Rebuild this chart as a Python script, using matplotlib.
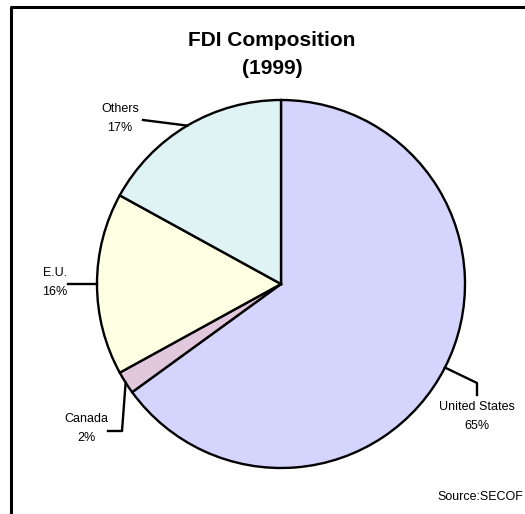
import numpy as np
import matplotlib
matplotlib.use("Agg")
import matplotlib.pyplot as plt
from matplotlib.patches import Wedge

# Data
categories = ["United States", "Canada", "E.U.", "Others"]
shares = [65, 2, 16, 17]
pct_labels = ["65%", "2%", "16%", "17%"]
colors = ["#D4D4FC", "#E2C8DC", "#FFFFE3", "#DFF3F4"]

W, H = 525, 514
fig = plt.figure(figsize=(W / 100, H / 100), dpi=100)
ax = fig.add_axes([0, 0, 1, 1])
ax.set_xlim(0, W)
ax.set_ylim(H, 0)
ax.axis("off")
plt.rcParams["font.family"] = ["Liberation Sans", "DejaVu Sans"]

# frame (left and top visible)
ax.plot([11, 11, W + 5], [H + 5, 7, 7], color="black", lw=2.2, solid_capstyle="butt")

cx, cy, r = 281, 284, 184
total = sum(shares)
start = 90.0
mids = []
for val, col in zip(shares, colors):
    sweep = 360.0 * val / total
    end = start - sweep
    w = Wedge((cx, cy), r, -start, -end, facecolor=col, edgecolor="black", lw=1.7)
    ax.add_patch(w)
    mids.append((start + end) / 2.0)
    start = end

def edge_pt(ang):
    a = np.deg2rad(ang)
    return cx + r * np.cos(a), cy - r * np.sin(a)

# leader elbows and label positions (layout)
layout = {
    "United States": dict(path=[(477, 383), (477, 395)], text=(477, 407)),
    "Canada": dict(path=[(122, 431), (108, 431)], text=(86, 419)),
    "E.U.": dict(path=[(68, 284)], text=(55, 273)),
    "Others": dict(path=[(143, 120)], text=(120, 109)),
}

for cat, pct, m in zip(categories, pct_labels, mids):
    x0, y0 = edge_pt(m)
    L = layout[cat]
    xs = [x0] + [p[0] for p in L["path"]]
    ys = [y0] + [p[1] for p in L["path"]]
    ax.plot(xs, ys, color="black", lw=1.7)
    tx, ty = L["text"]
    ax.text(tx, ty, cat, ha="center", va="center", fontsize=9)
    ax.text(tx, ty + 19, pct, ha="center", va="center", fontsize=9)

ax.text(272, 40, "FDI Composition", ha="center", va="center", fontsize=15, fontweight="bold")
ax.text(272, 68, "(1999)", ha="center", va="center", fontsize=15, fontweight="bold")
ax.text(523, 497, "Source:SECOF", ha="right", va="center", fontsize=9)

fig.savefig("out.png", dpi=100)
